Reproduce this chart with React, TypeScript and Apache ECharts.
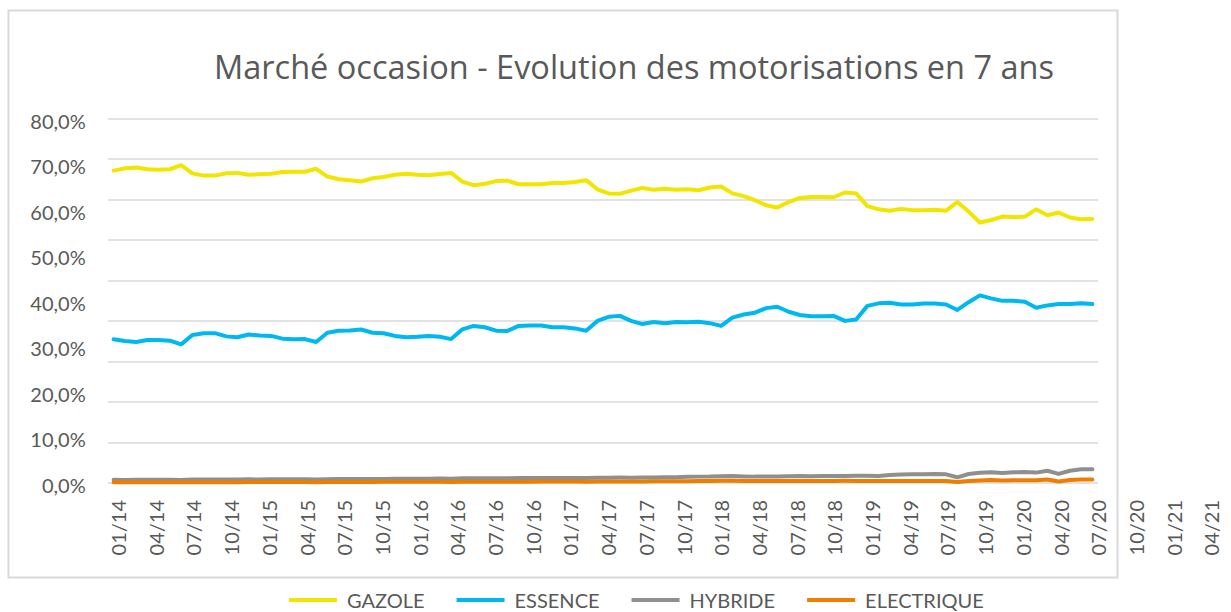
import React, { useEffect, useRef } from "react";
import * as echarts from "echarts";

const TITLE = "Marché occasion - Evolution des motorisations en 7 ans";

const YEARS = ["14", "15", "16", "17", "18", "19", "20", "21"];
const MONTH_NUMS = ["01", "02", "03", "04", "05", "06", "07", "08", "09", "10", "11", "12"];
// 01/14 .. 04/21 (88 months)
const MONTHS: string[] = [];
YEARS.forEach((y) => MONTH_NUMS.forEach((m) => MONTHS.push(m + "/" + y)));
MONTHS.splice(88);

const SERIES_NAMES = ["GAZOLE", "ESSENCE", "HYBRIDE", "ELECTRIQUE"];
const COLORS = ["#f2e500", "#00b8f0", "#8f8f8f", "#ee7d00"];

const GAZOLE = [
  68.6, 69.1, 69.3, 68.9, 68.8, 68.9, 69.8, 68.0, 67.5, 67.5, 68.0, 68.1,
  67.7, 67.8, 67.9, 68.3, 68.35, 68.35, 69.0, 67.3, 66.7, 66.5, 66.2, 66.9,
  67.2, 67.7, 67.9, 67.7, 67.6, 67.85, 68.1, 66.2, 65.4, 65.7, 66.3,
  66.4, 65.6, 65.6, 65.6, 65.9, 65.9, 66.1, 66.5, 64.5, 63.6, 63.5, 64.2,
  64.8, 64.4, 64.6, 64.4, 64.5, 64.3, 64.9, 65.1, 63.6, 63.0, 62.1, 61.0,
  60.5, 61.7, 62.6, 62.8, 62.8, 62.75, 63.8, 63.6, 60.8, 60.1, 59.8, 60.2,
  59.9, 59.9, 60.0, 59.8, 61.7, 59.6, 57.2, 57.75, 58.5, 58.4, 58.5, 60.1,
  58.8, 59.4, 58.3, 57.9, 58.0,
];

const ESSENCE = [
  31.55, 31.2, 30.96, 31.4, 31.4, 31.25, 30.45, 32.5, 32.9, 32.9, 32.2, 32.0,
  32.6, 32.4, 32.3, 31.7, 31.55, 31.6, 30.96, 33.0, 33.45, 33.5, 33.7, 33.0,
  32.9, 32.3, 32.0, 32.1, 32.3, 32.1, 31.6, 33.75, 34.5, 34.2, 33.45,
  33.4, 34.5, 34.6, 34.6, 34.2, 34.2, 33.95, 33.45, 35.6, 36.5, 36.7, 35.6,
  34.9, 35.35, 35.1, 35.35, 35.3, 35.4, 35.1, 34.5, 36.3, 37.0, 37.4, 38.4,
  38.7, 37.6, 36.9, 36.6, 36.6, 36.7, 35.6, 35.9, 38.9, 39.45, 39.6, 39.2,
  39.2, 39.4, 39.4, 39.2, 38.0, 39.7, 41.2, 40.55, 40.0, 40.0, 39.8, 38.5,
  39.0, 39.3, 39.3, 39.45, 39.3,
];

const HYBRIDE = [
  0.7, 0.68, 0.7, 0.69, 0.7, 0.72, 0.68, 0.75, 0.78, 0.77, 0.76, 0.78,
  0.8, 0.79, 0.8, 0.82, 0.81, 0.82, 0.78, 0.85, 0.88, 0.87, 0.88, 0.89,
  0.9, 0.91, 0.92, 0.93, 0.95, 1.0, 0.92, 1.02, 1.05, 1.04, 1.05, 1.06,
  1.08, 1.1, 1.1, 1.12, 1.1, 1.12, 1.08, 1.15, 1.18, 1.2, 1.18, 1.2,
  1.22, 1.25, 1.28, 1.35, 1.4, 1.42, 1.5, 1.52, 1.45, 1.4, 1.42, 1.45,
  1.5, 1.52, 1.48, 1.55, 1.52, 1.55, 1.58, 1.6,
  1.55, 1.75, 1.85, 1.9, 1.9, 1.98, 1.9, 1.25, 1.98, 2.25, 2.35, 2.2,
  2.35, 2.4, 2.28, 2.7, 2.0, 2.7, 3.0, 3.0,
];

const ELECTRIQUE = [
  0.15, 0.15, 0.16, 0.16, 0.17, 0.17, 0.15, 0.17, 0.18, 0.18, 0.19, 0.19,
  0.2, 0.2, 0.21, 0.21, 0.22, 0.22, 0.19, 0.22, 0.23, 0.23, 0.24, 0.24,
  0.25, 0.25, 0.26, 0.26, 0.27, 0.27, 0.24, 0.27, 0.28, 0.28, 0.29, 0.29,
  0.3, 0.3, 0.31, 0.31, 0.32, 0.32, 0.29, 0.33, 0.34, 0.34, 0.35, 0.35,
  0.36, 0.37, 0.39, 0.41, 0.43, 0.45, 0.47, 0.47, 0.43, 0.43, 0.44, 0.44,
  0.45, 0.45, 0.42, 0.45, 0.45, 0.47, 0.45, 0.42,
  0.42, 0.42, 0.42, 0.42, 0.42, 0.42, 0.42, 0.2, 0.42, 0.56, 0.68, 0.56,
  0.58, 0.6, 0.62, 0.75, 0.35, 0.68, 0.75, 0.75,
];

const SERIES_DATA = [GAZOLE, ESSENCE, HYBRIDE, ELECTRIQUE];

const TEXT_COLOR = "#595959";
const FONT = "Lato, 'Open Sans', sans-serif";
const TITLE_FONT = "'Open Sans', Lato, sans-serif";

export default function App() {
  const ref = useRef<HTMLDivElement>(null);
  useEffect(() => {
    if (!ref.current) return;
    const chart = echarts.init(ref.current, undefined, { renderer: "svg" });
    const option: any = {
      animation: false,
      backgroundColor: "#ffffff",
      textStyle: { fontFamily: FONT },
      title: {
        text: TITLE,
        left: 629,
        top: 41,
        textAlign: "center",
        textStyle: {
          fontFamily: TITLE_FONT,
          fontSize: 32.5,
          fontWeight: "normal",
          color: TEXT_COLOR,
          lineHeight: 40,
        },
      },
      graphic: [
        {
          type: "rect",
          z: -10,
          silent: true,
          shape: { x: 8.5, y: 10.5, width: 1109, height: 567 },
          style: { fill: "none", stroke: "#d9d9d9", lineWidth: 2 },
        },
      ],
      legend: {
        data: SERIES_NAMES,
        left: 289,
        top: 590,
        padding: 0,
        icon: "rect",
        itemWidth: 48,
        itemHeight: 4,
        itemGap: 32,
        textStyle: {
          fontFamily: FONT,
          fontSize: 20,
          lineHeight: 16,
          color: TEXT_COLOR,
          padding: [0, 0, 0, 5],
        },
      },
      grid: [
        {
          left: 111.7,
          top: 120.7,
          width: 1106,
          height: 364.3,
          containLabel: false,
          outerBoundsMode: "none",
        },
        {
          left: 108,
          top: 118.7,
          width: 990,
          height: 364.3,
          containLabel: false,
          outerBoundsMode: "none",
        },
      ],
      xAxis: [
        {
          type: "category",
          gridIndex: 0,
          data: MONTHS,
          boundaryGap: true,
          axisLine: { show: false },
          axisTick: { show: false },
          splitLine: { show: false },
          axisLabel: {
            interval: 2,
            rotate: 90,
            margin: 15,
            fontSize: 20,
            fontFamily: FONT,
            color: TEXT_COLOR,
          },
        },
        {
          type: "category",
          gridIndex: 1,
          data: MONTHS,
          boundaryGap: true,
          show: false,
        },
      ],
      yAxis: [
        {
          type: "value",
          gridIndex: 0,
          min: 0,
          max: 80,
          interval: 10,
          axisLine: { show: false },
          axisTick: { show: false },
          splitLine: { show: false },
          axisLabel: {
            margin: 26,
            fontSize: 20,
            fontFamily: FONT,
            color: TEXT_COLOR,
            formatter: (v: number) => v.toFixed(1).replace(".", ",") + "%",
          },
        },
        {
          type: "value",
          gridIndex: 1,
          min: 0,
          max: 90,
          interval: 10,
          axisLine: { show: false },
          axisTick: { show: false },
          axisLabel: { show: false },
          splitLine: { show: true, lineStyle: { color: "#d9d9d9", width: 1.5 } },
        },
        {
          type: "value",
          gridIndex: 1,
          min: 0,
          max: 80,
          show: false,
          splitLine: { show: false },
        },
      ],
      series: SERIES_NAMES.map((name, i) => ({
        name,
        type: "line",
        xAxisIndex: 1,
        yAxisIndex: 2,
        data: SERIES_DATA[i],
        symbol: "none",
        showSymbol: false,
        color: COLORS[i],
        lineStyle: { width: 4, color: COLORS[i], cap: "round", join: "round" },
      })),
    };
    chart.setOption(option);
    return () => chart.dispose();
  }, []);
  return (
    <div
      ref={ref}
      style={{ position: "absolute", left: 0, top: 0, width: 1231, height: 612 }}
    />
  );
}
